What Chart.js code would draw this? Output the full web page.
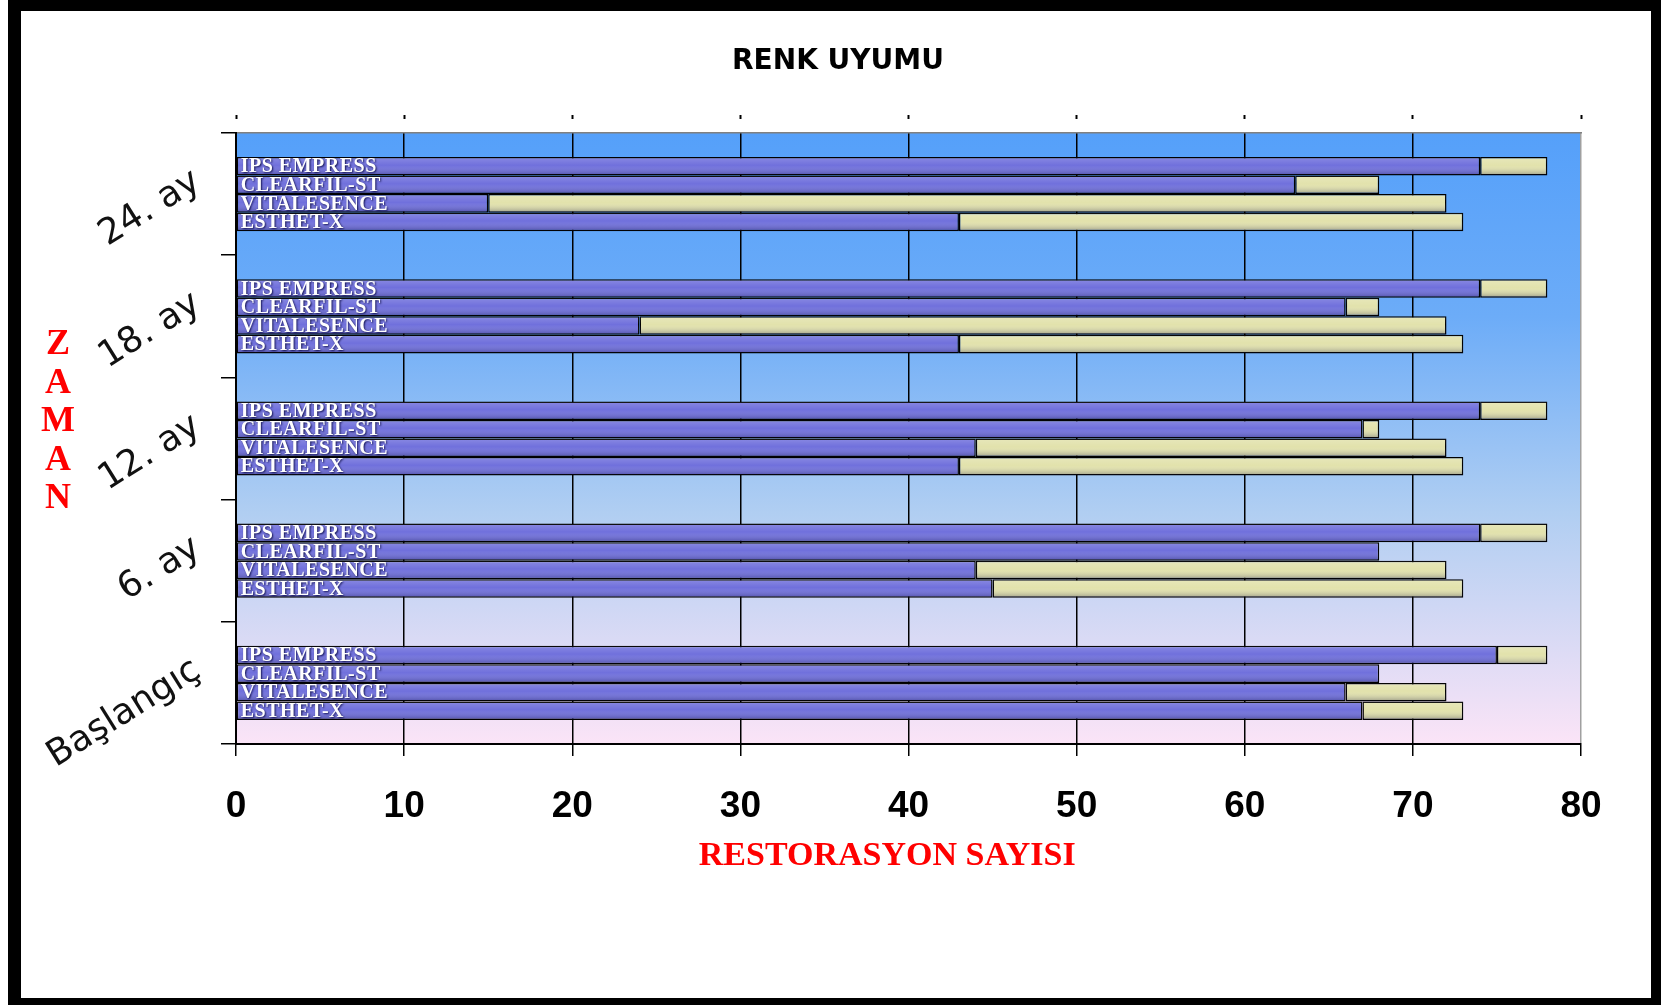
<!DOCTYPE html>
<html><head><meta charset="utf-8">
<script src="https://cdn.jsdelivr.net/npm/chart.js@4.4.0/dist/chart.umd.min.js"></script>
<style>html,body{margin:0;padding:0;background:#fff;overflow:hidden}#wrap{position:absolute;left:0;top:0;width:1661px;height:1005px}</style>
</head><body><div id="wrap"><canvas id="c" width="1661" height="1005"></canvas></div>
<script>
const categories = ['24. ay', '18. ay', '12. ay', '6. ay', 'Başlangıç'];
const products = ['IPS EMPRESS', 'CLEARFIL-ST', 'VITALESENCE', 'ESTHET-X'];
const blueIPS = [74, 74, 74, 74, 75];
const yellowIPS = [4, 4, 4, 4, 3];
const blueCLEARFIL = [63, 66, 67, 68, 68];
const yellowCLEARFIL = [5, 2, 1, 0, 0];
const blueVITAL = [15, 24, 44, 44, 66];
const yellowVITAL = [57, 48, 28, 28, 6];
const blueESTHET = [43, 43, 43, 45, 67];
const yellowESTHET = [30, 30, 30, 28, 6];
const xTicks = [0, 10, 20, 30, 40, 50, 60, 70, 80];
const chartTitle = 'RENK UYUMU';
const xTitle = 'RESTORASYON SAYISI';
const yTitle = 'ZAMAN';

const blueSeries = [blueIPS, blueCLEARFIL, blueVITAL, blueESTHET];
const yellowSeries = [yellowIPS, yellowCLEARFIL, yellowVITAL, yellowESTHET];

const BLUE = '#7070dc';
const YELLOW = '#e2e2ac';

const datasets = [];
products.forEach((p, i) => {
  datasets.push({ label: p, data: blueSeries[i], stack: p, backgroundColor: BLUE });
  datasets.push({ label: p + ' ', data: yellowSeries[i], stack: p, backgroundColor: YELLOW });
});

const bgPlugin = {
  id: 'bgFrame',
  beforeDraw(chart) {
    const { ctx, chartArea: a } = chart;
    ctx.save();
    ctx.fillStyle = '#fff';
    ctx.fillRect(0, 0, chart.width, chart.height);
    const g = ctx.createLinearGradient(0, a.top, 0, a.bottom);
    g.addColorStop(0, '#55a0fa');
    g.addColorStop(0.3, '#6cacf8');
    g.addColorStop(0.62, '#b0cef2');
    g.addColorStop(1, '#fbe4f7');
    ctx.fillStyle = g;
    ctx.fillRect(a.left, a.top, a.right - a.left, a.bottom - a.top);
    ctx.restore();
  },
  afterDraw(chart) {
    const { ctx } = chart;
    ctx.save();
    ctx.fillStyle = '#000';
    ctx.fillRect(8, 0, 1653, 11);
    ctx.fillRect(8, 0, 13, 1005);
    ctx.fillRect(1651, 0, 10, 1005);
    ctx.fillRect(8, 998, 1653, 7);
    // chart title
    ctx.textAlign = 'center';
    ctx.textBaseline = 'middle';
    ctx.fillStyle = '#000';
    ctx.font = 'bold 28px "DejaVu Sans"';
    ctx.fillText(chartTitle, 838, 62);
    // vertical axis title, stacked letters
    ctx.fillStyle = '#ff0000';
    ctx.font = 'bold 36px "Liberation Serif"';
    yTitle.split('').forEach((ch, k) => ctx.fillText(ch, 58, 345 + k * 38.5));
    ctx.restore();
  }
};

const barLabelPlugin = {
  id: 'barLabels',
  afterDatasetsDraw(chart) {
    const { ctx } = chart;
    ctx.save();
    // shading on every bar segment
    chart.data.datasets.forEach((ds, di) => {
      chart.getDatasetMeta(di).data.forEach(el => {
        const w = Math.abs(el.x - el.base);
        if (w < 1) return;
        const top = el.y - el.height / 2, h = el.height;
        const g = ctx.createLinearGradient(0, top, 0, top + h);
        g.addColorStop(0, 'rgba(255,255,255,0.18)');
        g.addColorStop(0.45, 'rgba(255,255,255,0.0)');
        g.addColorStop(1, 'rgba(0,0,50,0.32)');
        ctx.fillStyle = g;
        ctx.fillRect(Math.min(el.x, el.base) + 1, top + 1, w - 2, h - 2);
      });
    });
    ctx.font = 'bold 20px "Liberation Serif"';
    ctx.textAlign = 'left';
    ctx.textBaseline = 'middle';
    if ('letterSpacing' in ctx) ctx.letterSpacing = '0.5px';
    products.forEach((p, i) => {
      const meta = chart.getDatasetMeta(2 * i);
      meta.data.forEach(el => {
        const left = Math.min(el.base, el.x);
        ctx.shadowColor = '#101050';
        ctx.shadowBlur = 2;
        ctx.shadowOffsetX = 1;
        ctx.shadowOffsetY = 1;
        ctx.fillStyle = '#ffffff';
        ctx.fillText(p, left + 4, el.y + 1);
      });
    });
    ctx.restore();
  }
};

const tickObjs = s => { s.ticks = xTicks.map(v => ({ value: v })); };

new Chart(document.getElementById('c'), {
  type: 'bar',
  data: { labels: categories, datasets },
  options: {
    indexAxis: 'y',
    responsive: false,
    animation: false,
    devicePixelRatio: 1,
    categoryPercentage: 0.607,
    barPercentage: 1.0,
    layout: { padding: { left: 0, right: 80, top: 115, bottom: 0 } },
    elements: { bar: { borderColor: '#000', borderWidth: 1.5, borderSkipped: false } },
    plugins: {
      legend: { display: false },
      tooltip: { enabled: false },
      title: { display: false }
    },
    scales: {
      x: {
        type: 'linear', position: 'bottom', min: 0, max: 80, stacked: true,
        afterBuildTicks: tickObjs,
        ticks: { font: { family: 'Liberation Sans', size: 37, weight: 'bold' }, color: '#000', padding: 29 },
        grid: {
          color: c => (c.index === 8 ? '#a0a0a0' : '#000'), lineWidth: 1.5,
          tickLength: 12, tickColor: '#000', tickWidth: 1.5
        },
        border: { color: '#000', width: 2 },
        title: {
          display: true, text: xTitle + '     ', color: '#ff0000',
          font: { family: 'Liberation Serif', size: 34, weight: 'bold' },
          padding: { top: 0, bottom: 128 }
        },
        afterFit: s => { s.height = 261; }
      },
      x2: {
        type: 'linear', position: 'top', min: 0, max: 80,
        afterBuildTicks: tickObjs,
        ticks: { display: false },
        grid: { drawOnChartArea: false, tickLength: 18, tickColor: '#000', tickWidth: 2, tickBorderDash: [4, 40] },
        border: { color: '#808080', width: 1.5 },
        afterFit: s => { s.height = 18; }
      },
      y: {
        type: 'category', position: 'left', stacked: true,
        ticks: {
          font: { family: 'DejaVu Sans', size: 36 }, color: '#111',
          minRotation: 32, maxRotation: 32, padding: 14, align: 'end', autoSkip: false
        },
        grid: { drawOnChartArea: false, tickLength: 15, color: '#000', lineWidth: 1.5, offset: true },
        border: { color: '#000', width: 2 },
        afterFit: s => { s.width = 236; }
      }
    }
  },
  plugins: [bgPlugin, barLabelPlugin]
});
</script>
</body></html>
